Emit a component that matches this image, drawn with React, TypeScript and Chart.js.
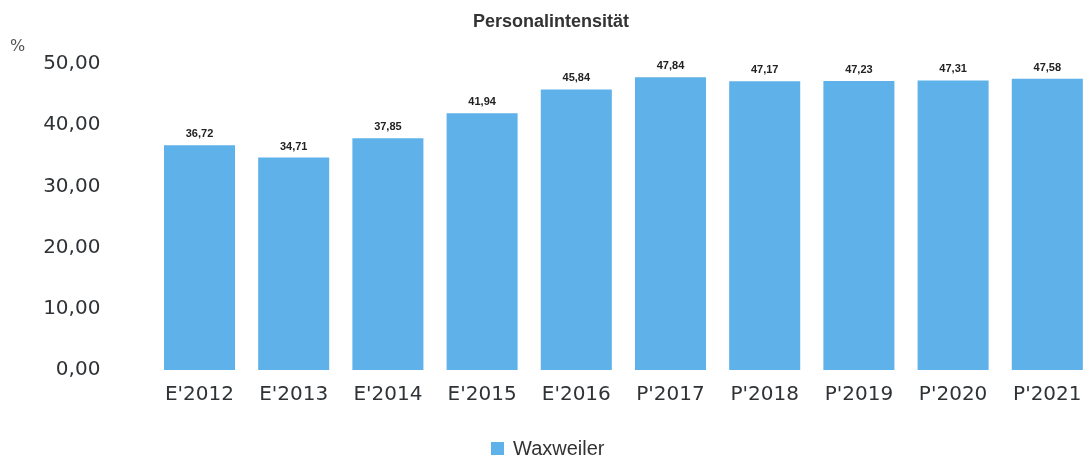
import React, { useEffect, useRef } from "react";
import { Chart, registerables } from "chart.js";

Chart.register(...registerables);

const title = "Personalintensität";
const unitLabel = "%";
const seriesName = "Waxweiler";
const categories = ["E'2012", "E'2013", "E'2014", "E'2015", "E'2016", "P'2017", "P'2018", "P'2019", "P'2020", "P'2021"];
const values = [36.72, 34.71, 37.85, 41.94, 45.84, 47.84, 47.17, 47.23, 47.31, 47.58];
const yTicks = [0, 10, 20, 30, 40, 50];

const BAR = "#5eb1e9";
const TEXT = "#2f3336";

const fmt = (v: number) => v.toFixed(2).replace(".", ",");

const decorPlugin = {
  id: "decor",
  afterDatasetsDraw(chart: any) {
    const ctx = chart.ctx;
    ctx.save();
    // data labels
    const meta = chart.getDatasetMeta(0);
    ctx.font = "bold 11px 'Liberation Sans', Arial, sans-serif";
    ctx.fillStyle = "#222";
    ctx.textAlign = "center";
    ctx.textBaseline = "middle";
    meta.data.forEach((el: any, i: number) => {
      ctx.fillText(fmt(values[i]), el.x, el.y - 11);
    });
    // title
    ctx.font = "bold 18px 'Liberation Sans', Arial, sans-serif";
    ctx.fillStyle = "#333";
    ctx.fillText(title, 551, 22);
    // unit
    ctx.font = "16px 'DejaVu Sans', sans-serif";
    ctx.fillStyle = "#555";
    ctx.textAlign = "left";
    ctx.fillText(unitLabel, 10, 47);
    // legend
    ctx.fillStyle = BAR;
    ctx.fillRect(491, 442, 13, 13);
    ctx.font = "20px 'Liberation Sans', Arial, sans-serif";
    ctx.fillStyle = "#333";
    ctx.fillText(seriesName, 513, 449);
    ctx.restore();
  },
};

export default function App() {
  const ref = useRef<HTMLCanvasElement | null>(null);
  useEffect(() => {
    document.body.style.overflow = "hidden";
    const chart = new Chart(ref.current as HTMLCanvasElement, {
      type: "bar",
      data: {
        labels: categories,
        datasets: [
          {
            label: seriesName,
            data: values,
            backgroundColor: BAR,
            borderWidth: 0,
            barPercentage: 0.754,
            categoryPercentage: 1,
          },
        ],
      },
      options: {
        animation: false,
        responsive: false,
        maintainAspectRatio: false,
        layout: { padding: { top: 62, bottom: 37, left: 0, right: 15.6 } },
        plugins: {
          legend: { display: false },
          title: { display: false },
          tooltip: { enabled: false },
        },
        scales: {
          x: {
            grid: { display: false, drawTicks: false },
            border: { display: false },
            ticks: {
              color: TEXT,
              font: { family: "'DejaVu Sans', Verdana, sans-serif", size: 20 },
              padding: 13,
              maxRotation: 0,
              autoSkip: false,
            },
          },
          y: {
            min: 0,
            max: 50,
            grid: { display: false, drawTicks: false },
            border: { display: false },
            afterFit: (s: any) => {
              s.width = 152.4;
            },
            afterBuildTicks: (s: any) => {
              s.ticks = yTicks.map((v) => ({ value: v }));
            },
            ticks: {
              color: TEXT,
              font: { family: "'DejaVu Sans', Verdana, sans-serif", size: 20 },
              padding: 52,
              callback: (v: any) => fmt(Number(v)),
            },
          },
        },
      },
      plugins: [decorPlugin],
    });
    return () => chart.destroy();
  }, []);
  return (
    <div style={{ position: "fixed", left: 0, top: 0, width: 1110, height: 457 }}>
      <canvas ref={ref} width={1110} height={457} style={{ width: 1110, height: 457 }} />
    </div>
  );
}
